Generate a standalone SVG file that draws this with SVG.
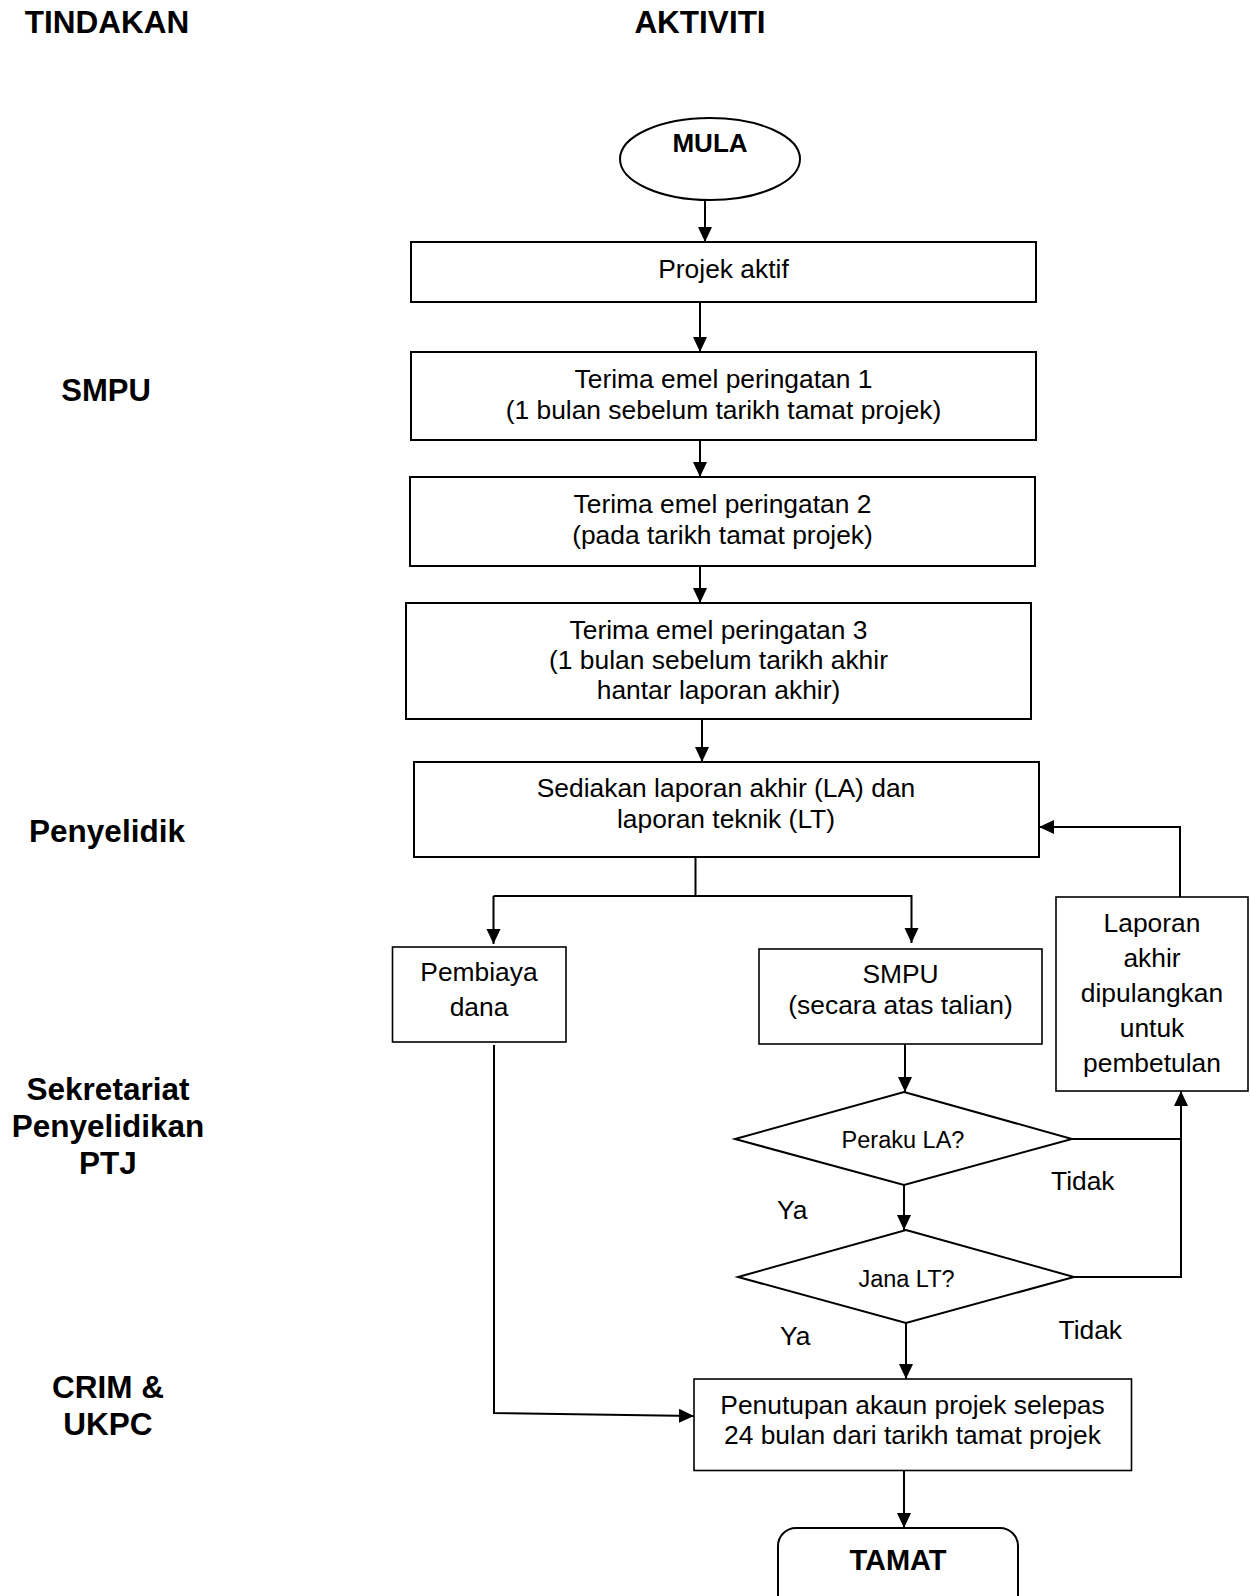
<svg xmlns="http://www.w3.org/2000/svg" width="1250" height="1596" viewBox="0 0 1250 1596">
<style>
.box{fill:#fff;stroke:#000;stroke-width:2}
.thin{fill:#fff;stroke:#000;stroke-width:1.6}
.t{font-family:"Liberation Sans",Arial,sans-serif;font-size:26.4px;fill:#000;text-anchor:middle}
.s{font-family:"Liberation Sans",Arial,sans-serif;font-size:23.5px;fill:#000;text-anchor:middle}
.b{font-family:"Liberation Sans",Arial,sans-serif;font-weight:bold;fill:#000;text-anchor:middle}
.lbl{font-family:"Liberation Sans",Arial,sans-serif;font-size:26.4px;fill:#000}
.c{fill:none;stroke:#000;stroke-width:2}
</style>
<defs>
<marker id="ah" markerUnits="userSpaceOnUse" markerWidth="16" markerHeight="16" viewBox="0 0 16 16" refX="15" refY="8" orient="auto">
<path d="M0,1 L15,8 L0,15 Z" fill="#000"/>
</marker>
</defs>
<rect width="1250" height="1596" fill="#fff"/>
<g id="headers">
<text class="b" x="107" y="33" font-size="31.5">TINDAKAN</text>
<text class="b" x="700" y="33" font-size="31.5">AKTIVITI</text>
</g>
<g id="lanes">
<text class="b" x="106" y="401" font-size="31">SMPU</text>
<text class="b" x="107" y="842" font-size="31.5">Penyelidik</text>
<text class="b" x="108" y="1100" font-size="31.5">Sekretariat</text>
<text class="b" x="108" y="1137" font-size="31.5">Penyelidikan</text>
<text class="b" x="108" y="1174" font-size="31.5">PTJ</text>
<text class="b" x="108" y="1398" font-size="31.5">CRIM &amp;</text>
<text class="b" x="108" y="1435" font-size="31.5">UKPC</text>
</g>
<g id="connectors">
<line class="c" x1="705" y1="200" x2="705" y2="242" marker-end="url(#ah)"/>
<line class="c" x1="700" y1="302" x2="700" y2="352" marker-end="url(#ah)"/>
<line class="c" x1="700" y1="440" x2="700" y2="477" marker-end="url(#ah)"/>
<line class="c" x1="700" y1="566" x2="700" y2="603" marker-end="url(#ah)"/>
<line class="c" x1="702" y1="719" x2="702" y2="762" marker-end="url(#ah)"/>
<polyline class="c" points="695.5,857 695.5,896"/>
<polyline class="c" points="493.5,896 911.5,896 911.5,943" marker-end="url(#ah)"/>
<line class="c" x1="493.5" y1="896" x2="493.5" y2="944" marker-end="url(#ah)"/>
<polyline class="c" points="494,1045 494,1413 694,1416" marker-end="url(#ah)"/>
<line class="c" x1="905" y1="1044" x2="905" y2="1092" marker-end="url(#ah)"/>
<line class="c" x1="904" y1="1185" x2="904" y2="1230" marker-end="url(#ah)"/>
<polyline class="c" points="1072,1139 1181,1139"/>
<polyline class="c" points="1074,1277 1181,1277 1181,1091" marker-end="url(#ah)"/>
<polyline class="c" points="1180,897 1180,827 1039,827" marker-end="url(#ah)"/>
<line class="c" x1="906" y1="1323" x2="906" y2="1379" marker-end="url(#ah)"/>
<line class="c" x1="904" y1="1471" x2="904" y2="1528" marker-end="url(#ah)"/>
</g>
<g id="mula">
<ellipse class="box" cx="710" cy="159" rx="90" ry="41"/>
<text class="b" x="710" y="152" font-size="26">MULA</text>
</g>
<g id="projek-aktif">
<rect class="box" x="411" y="242" width="625" height="60"/>
<text class="t" x="723.5" y="278">Projek aktif</text>
</g>
<g id="peringatan-1">
<rect class="box" x="411" y="352" width="625" height="88"/>
<text class="t" x="723.5" y="388">Terima emel peringatan 1</text>
<text class="t" x="723.5" y="418.5">(1 bulan sebelum tarikh tamat projek)</text>
</g>
<g id="peringatan-2">
<rect class="box" x="410" y="477" width="625" height="89"/>
<text class="t" x="722.5" y="513">Terima emel peringatan 2</text>
<text class="t" x="722.5" y="543.5">(pada tarikh tamat projek)</text>
</g>
<g id="peringatan-3">
<rect class="box" x="406" y="603" width="625" height="116"/>
<text class="t" x="718.5" y="638.5">Terima emel peringatan 3</text>
<text class="t" x="718.5" y="668.5">(1 bulan sebelum tarikh akhir</text>
<text class="t" x="718.5" y="698.5">hantar laporan akhir)</text>
</g>
<g id="sediakan">
<rect class="box" x="414" y="762" width="625" height="95"/>
<text class="t" x="726" y="797">Sediakan laporan akhir (LA) dan</text>
<text class="t" x="726" y="827.5">laporan teknik (LT)</text>
</g>
<g id="pembiaya">
<rect class="thin" x="392.5" y="947" width="173.5" height="95"/>
<text class="t" x="479" y="981">Pembiaya</text>
<text class="t" x="479" y="1016">dana</text>
</g>
<g id="smpu-online">
<rect class="thin" x="759" y="949" width="283" height="95"/>
<text class="t" x="900.5" y="983">SMPU</text>
<text class="t" x="900.5" y="1013.5">(secara atas talian)</text>
</g>
<g id="laporan-dipulangkan">
<rect class="thin" x="1056" y="897" width="192" height="194"/>
<text class="t" x="1152" y="932">Laporan</text>
<text class="t" x="1152" y="967">akhir</text>
<text class="t" x="1152" y="1002">dipulangkan</text>
<text class="t" x="1152" y="1037">untuk</text>
<text class="t" x="1152" y="1072">pembetulan</text>
</g>
<g id="peraku-la">
<polygon class="box" points="904,1092 1072,1139 904,1185 735,1139"/>
<text class="s" x="903" y="1148">Peraku LA?</text>
</g>
<g id="jana-lt">
<polygon class="box" points="906,1230 1074,1277 906,1323 738,1277"/>
<text class="s" x="906.5" y="1286.5">Jana LT?</text>
</g>
<g id="penutupan">
<rect class="thin" x="694" y="1379" width="437.5" height="91.5"/>
<text class="t" x="912.5" y="1413.5">Penutupan akaun projek selepas</text>
<text class="t" x="912.5" y="1444">24 bulan dari tarikh tamat projek</text>
</g>
<g id="tamat">
<rect class="box" x="778" y="1528" width="240" height="95" rx="18"/>
<text class="b" x="898" y="1570" font-size="29">TAMAT</text>
</g>
<g id="labels">
<text class="lbl" x="1051" y="1190">Tidak</text>
<text class="lbl" x="777" y="1219">Ya</text>
<text class="lbl" x="780" y="1345">Ya</text>
<text class="lbl" x="1058.5" y="1339">Tidak</text>
</g>
</svg>
